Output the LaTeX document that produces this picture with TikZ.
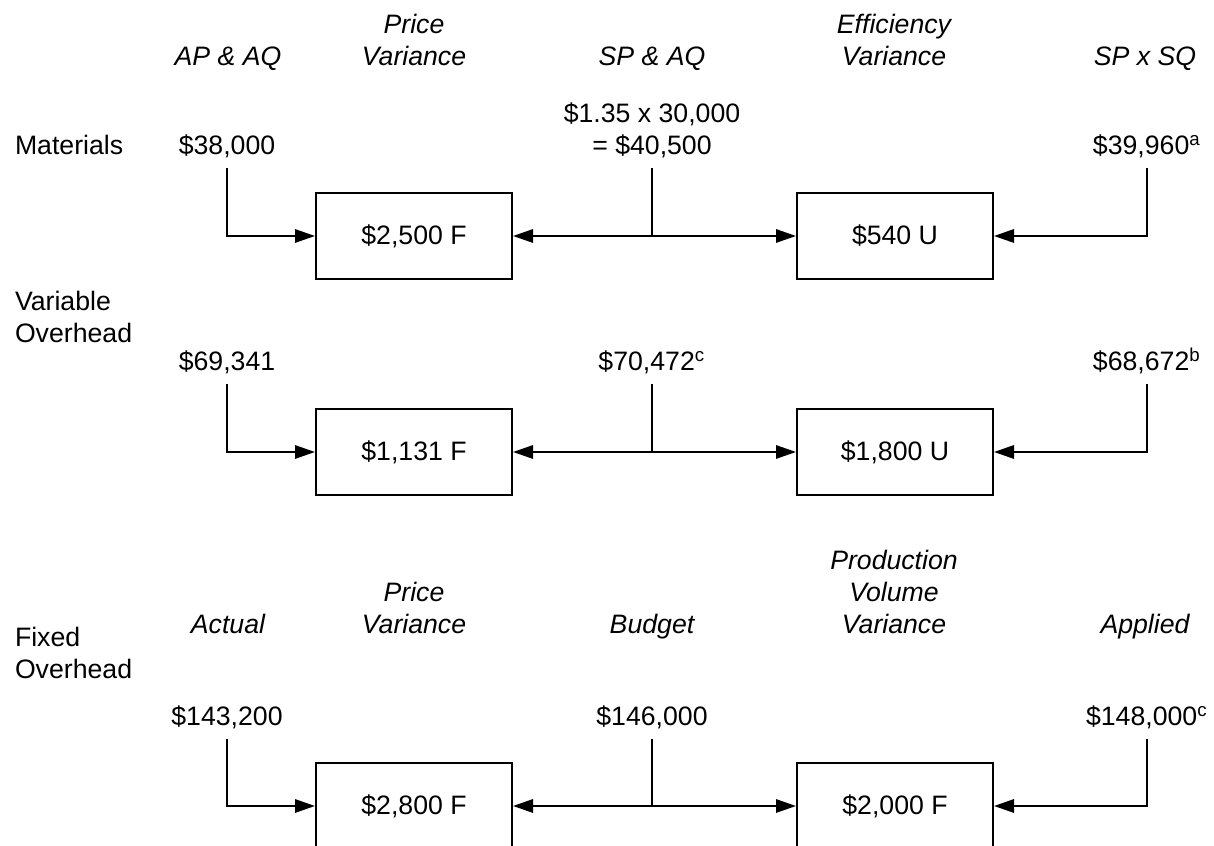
\documentclass[tikz,border=0pt]{standalone}
\usepackage{fontspec}
\setmainfont{Liberation Sans}
\usetikzlibrary{arrows.meta,positioning}

\begin{document}
\begin{tikzpicture}[
  x=0.375pt, y=-0.375pt,
  font=\fontsize{10}{12}\selectfont,
  line width=0.75pt,
  >={Triangle[length=7.5pt,width=5pt]},
  head/.style={font=\fontsize{10}{12}\selectfont\itshape,align=center,anchor=base},
  amount/.style={align=center,anchor=base},
  rowlabel/.style={align=left,anchor=base west,inner xsep=0pt},
  varbox/.style={rectangle,draw,line width=0.75pt,minimum width=73.5pt,minimum height=31.9pt,inner sep=0pt},
]
\clip (0,0) rectangle (1214,846);

% Headings (materials and variable overhead)
\node[head] (h1) at (228,66) {AP \& AQ};
\node[head] (h2) at (414,66) {Price\\Variance};
\node[head] (h3) at (652,66) {SP \& AQ};
\node[head] (h4) at (894,66) {Efficiency\\Variance};
\node[head] (h5) at (1145,66) {SP x SQ};

% Materials
\node[rowlabel] (mat) at (14,155) {Materials};
\node[amount] (matAA) at (227,155) {\$38,000};
\node[amount] (matSA) at (652,155) {\$1.35 x 30,000\\= \$40,500};
\node[amount] (matSS) at (1147,155) {\$39,960\textsuperscript{a}};
\node[varbox] (matPV) at (414,236) {\$2,500 F};
\node[varbox] (matEV) at (895,236) {\$540 U};

\draw[->] (matAA.south) |- (matPV.west);
\draw[<->] (matPV.east) -- (matEV.west);
\draw (matSA.south) -- (matSA.south |- matPV.east);
\draw[->] (matSS.south) |- (matEV.east);

% Variable overhead
\node[rowlabel] (voh) at (14,343) {Variable\\Overhead};
\node[amount] (vohAA) at (227,371) {\$69,341};
\node[amount] (vohSA) at (652,371) {\$70,472\textsuperscript{c}};
\node[amount] (vohSS) at (1147,371) {\$68,672\textsuperscript{b}};
\node[varbox] (vohPV) at (414,452) {\$1,131 F};
\node[varbox] (vohEV) at (895,452) {\$1,800 U};

\draw[->] (vohAA.south) |- (vohPV.west);
\draw[<->] (vohPV.east) -- (vohEV.west);
\draw (vohSA.south) -- (vohSA.south |- vohPV.east);
\draw[->] (vohSS.south) |- (vohEV.east);

% Headings (fixed overhead)
\node[head] (g1) at (228,634) {Actual};
\node[head] (g2) at (414,634) {Price\\Variance};
\node[head] (g3) at (652,634) {Budget};
\node[head] (g4) at (894,634) {Production\\Volume\\Variance};
\node[head] (g5) at (1145,634) {Applied};

% Fixed overhead
\node[rowlabel] (foh) at (14,679) {Fixed\\Overhead};
\node[amount] (fohAC) at (227,726) {\$143,200};
\node[amount] (fohBU) at (652,726) {\$146,000};
\node[amount] (fohAP) at (1147,726) {\$148,000\textsuperscript{c}};
\node[varbox] (fohPV) at (414,806) {\$2,800 F};
\node[varbox] (fohVV) at (895,806) {\$2,000 F};

\draw[->] (fohAC.south) |- (fohPV.west);
\draw[<->] (fohPV.east) -- (fohVV.west);
\draw (fohBU.south) -- (fohBU.south |- fohPV.east);
\draw[->] (fohAP.south) |- (fohVV.east);

\end{tikzpicture}
\end{document}
